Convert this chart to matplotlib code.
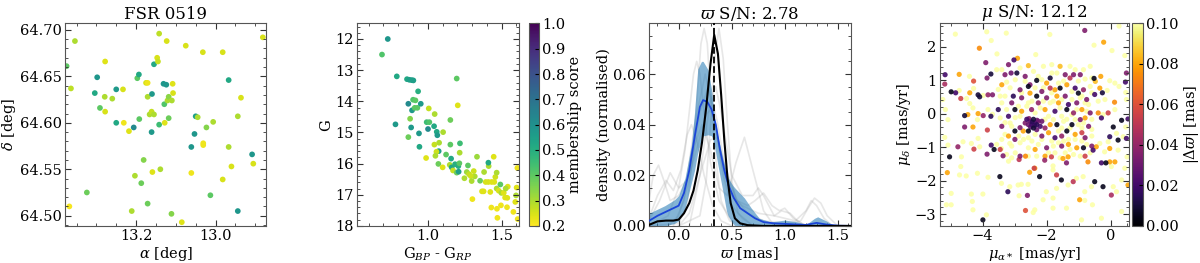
import numpy as np
import matplotlib
matplotlib.use('Agg')
import matplotlib.pyplot as plt
from matplotlib.ticker import AutoMinorLocator, MultipleLocator, FormatStrFormatter

plt.rcParams['font.family'] = 'DejaVu Serif'
plt.rcParams['mathtext.fontset'] = 'dejavuserif'
plt.rcParams['font.size'] = 10
plt.rcParams['xtick.direction'] = 'in'
plt.rcParams['ytick.direction'] = 'in'
plt.rcParams['xtick.top'] = True
plt.rcParams['ytick.right'] = True
plt.rcParams['axes.edgecolor'] = '#555555'
plt.rcParams['axes.labelpad'] = 1.5

# ── panel 1: sky positions (ra, dec, membership) ───────────
sky = np.array([
    [13.354, 64.688, 0.30], [13.368, 64.510, 0.21], [13.364, 64.637, 0.28], [13.375, 64.661, 0.40],
    [13.324, 64.525, 0.38], [13.298, 64.649, 0.58], [13.304, 64.632, 0.52], [13.291, 64.616, 0.40],
    [13.278, 64.666, 0.24], [13.279, 64.628, 0.30], [13.278, 64.612, 0.25], [13.260, 64.626, 0.30],
    [13.250, 64.636, 0.57], [13.250, 64.600, 0.52], [13.233, 64.636, 0.25], [13.231, 64.600, 0.22],
    [13.218, 64.591, 0.24], [13.211, 64.505, 0.30], [13.206, 64.595, 0.62], [13.203, 64.543, 0.30],
    [13.197, 64.648, 0.40], [13.193, 64.652, 0.52], [13.192, 64.604, 0.40], [13.187, 64.535, 0.38],
    [13.181, 64.560, 0.35], [13.175, 64.643, 0.25], [13.171, 64.643, 0.22], [13.171, 64.628, 0.30],
    [13.171, 64.513, 0.38], [13.166, 64.609, 0.30], [13.161, 64.612, 0.27], [13.160, 64.631, 0.57],
    [13.161, 64.590, 0.57], [13.159, 64.547, 0.24], [13.155, 64.609, 0.30], [13.155, 64.663, 0.52],
    [13.147, 64.670, 0.25], [13.145, 64.666, 0.27], [13.142, 64.696, 0.28], [13.142, 64.598, 0.45],
    [13.139, 64.550, 0.30], [13.131, 64.642, 0.58], [13.124, 64.641, 0.58], [13.129, 64.620, 0.42],
    [13.128, 64.600, 0.24], [13.123, 64.688, 0.25], [13.121, 64.624, 0.30], [13.118, 64.628, 0.34],
    [13.118, 64.605, 0.38], [13.110, 64.624, 0.30], [13.111, 64.502, 0.35], [13.108, 64.642, 0.24],
    [13.107, 64.632, 0.25], [13.085, 64.493, 0.24], [13.075, 64.683, 0.25], [13.061, 64.574, 0.58],
    [13.061, 64.546, 0.22], [13.053, 64.588, 0.58], [13.050, 64.607, 0.55], [13.045, 64.606, 0.30],
    [13.032, 64.676, 0.25], [13.031, 64.578, 0.22], [13.031, 64.576, 0.22], [13.023, 64.595, 0.35],
    [13.013, 64.522, 0.40], [13.006, 64.601, 0.30], [12.982, 64.676, 0.25], [12.982, 64.539, 0.25],
    [12.967, 64.646, 0.52], [12.967, 64.574, 0.30], [12.960, 64.553, 0.25], [12.944, 64.607, 0.30],
    [12.944, 64.505, 0.58], [12.936, 64.627, 0.25], [12.908, 64.566, 0.58], [12.905, 64.556, 0.25],
    [12.881, 64.692, 0.25],
])

# ── panel 2: colour-magnitude (bp_rp, G, membership) ───────
cmd = np.array([
    [0.730, 12.00, 0.58], [0.691, 12.50, 0.42], [0.791, 13.20, 0.52], [0.860, 13.29, 0.52],
    [0.876, 13.31, 0.55], [0.892, 13.32, 0.55], [0.903, 13.33, 0.55], [1.196, 13.27, 0.40],
    [0.935, 13.68, 0.50], [0.901, 13.95, 0.42], [0.917, 13.97, 0.40], [0.869, 14.08, 0.62],
    [0.894, 14.29, 0.57], [0.912, 14.21, 0.40], [0.930, 14.21, 0.40], [0.953, 14.08, 0.57],
    [1.007, 14.23, 0.27], [1.203, 14.13, 0.24], [1.047, 14.41, 0.30], [0.881, 14.56, 0.35],
    [0.782, 14.74, 0.57], [0.888, 14.84, 0.57], [0.993, 14.67, 0.45], [1.011, 14.67, 0.42],
    [1.002, 14.89, 0.62], [1.043, 14.80, 0.52], [1.061, 14.98, 0.52], [1.065, 15.09, 0.57],
    [1.104, 14.99, 0.30], [1.153, 14.60, 0.38], [0.869, 15.15, 0.38], [0.941, 15.03, 0.57],
    [0.944, 15.46, 0.52], [1.077, 15.33, 0.30], [1.045, 15.39, 0.27], [1.074, 15.60, 0.55],
    [1.059, 15.62, 0.26], [1.052, 15.75, 0.30], [0.989, 15.82, 0.24], [1.124, 15.71, 0.40],
    [1.153, 15.39, 0.40], [1.218, 15.35, 0.45], [1.216, 15.65, 0.30], [1.158, 15.84, 0.52],
    [1.072, 16.01, 0.38], [1.101, 16.12, 0.24], [1.149, 16.04, 0.30], [1.162, 16.12, 0.52],
    [1.185, 16.02, 0.50], [1.171, 16.22, 0.27], [1.196, 16.29, 0.38], [1.207, 16.08, 0.50],
    [1.209, 16.26, 0.55], [1.214, 15.99, 0.40], [1.272, 16.06, 0.40], [1.333, 15.78, 0.32],
    [1.264, 16.27, 0.32], [1.248, 16.47, 0.30], [1.279, 16.34, 0.27], [1.311, 16.24, 0.26],
    [1.318, 16.41, 0.30], [1.291, 16.40, 0.26], [1.297, 16.56, 0.30], [1.302, 17.14, 0.22],
    [1.354, 16.55, 0.38], [1.378, 16.89, 0.24], [1.392, 16.59, 0.25], [1.381, 16.27, 0.30],
    [1.412, 16.08, 0.30], [1.446, 15.78, 0.24], [1.410, 16.59, 0.25], [1.432, 16.59, 0.24],
    [1.450, 16.59, 0.24], [1.457, 16.43, 0.26], [1.466, 16.29, 0.30], [1.430, 17.41, 0.22],
    [1.410, 15.97, 0.52], [1.423, 16.91, 0.24], [1.466, 16.80, 0.30], [1.480, 16.87, 0.25],
    [1.491, 16.67, 0.40], [1.498, 16.94, 0.30], [1.514, 16.94, 0.24], [1.523, 17.09, 0.24],
    [1.538, 17.10, 0.24], [1.541, 16.74, 0.24], [1.527, 16.80, 0.30], [1.495, 17.34, 0.22],
    [1.468, 17.45, 0.22], [1.536, 17.40, 0.22], [1.579, 17.55, 0.22], [1.592, 17.23, 0.24],
    [1.597, 17.02, 0.30], [1.601, 16.77, 0.24], [1.606, 16.14, 0.22], [1.608, 17.78, 0.22],
    [1.471, 17.74, 0.22], [1.367, 16.89, 0.24],
])

# ── panel 3: parallax densities ────────────────────────────
plx_peak = 0.335
best_x = [-0.28, -0.2, -0.12, -0.05, 0.0, 0.05, 0.1, 0.14, 0.18, 0.22, 0.26, 0.30, 0.335,
          0.37, 0.40, 0.43, 0.46, 0.49, 0.53, 0.58, 0.65, 0.8, 1.62]
best_y = [0.0004, 0.0018, 0.0021, 0.0021, 0.0025, 0.005, 0.009, 0.014, 0.022, 0.033, 0.047,
          0.064, 0.0755, 0.068, 0.052, 0.034, 0.019, 0.009, 0.003, 0.001, 0.0003, 0.0, 0.0]

mean_x = [-0.28, -0.2, -0.1, 0.0, 0.05, 0.1, 0.15, 0.2, 0.23, 0.27, 0.31, 0.35, 0.39, 0.43,
          0.47, 0.52, 0.58, 0.65, 0.72, 0.8, 0.9, 1.0, 1.1, 1.2, 1.3, 1.4, 1.5, 1.62]
mean_y = [0.002, 0.004, 0.006, 0.008, 0.013, 0.022, 0.035, 0.047, 0.0497, 0.049, 0.046, 0.040,
          0.030, 0.022, 0.016, 0.011, 0.007, 0.005, 0.003, 0.0015, 0.001, 0.0008, 0.0006,
          0.0004, 0.0012, 0.0005, 0.0001, 0.0]
band_x = [-0.28, -0.13, -0.04, 0.0, 0.06, 0.12, 0.15, 0.18, 0.215, 0.23, 0.278, 0.309, 0.325,
          0.34, 0.37, 0.388, 0.42, 0.45, 0.466, 0.51, 0.53, 0.62, 0.685, 0.76, 0.87, 1.0,
          1.12, 1.2, 1.28, 1.31, 1.39, 1.47, 1.62]
band_hi = [0.005, 0.008, 0.0103, 0.012, 0.019, 0.032, 0.045, 0.062, 0.065, 0.065, 0.0616,
           0.054, 0.048, 0.042, 0.035, 0.032, 0.026, 0.0216, 0.019, 0.016, 0.015, 0.011, 0.007,
           0.003, 0.0016, 0.0023, 0.0016, 0.0005, 0.003, 0.0036, 0.002, 0.0, 0.0]
band_lo = [0.0, 0.0, 0.001, 0.002, 0.007, 0.017, 0.022, 0.029, 0.034, 0.0356, 0.036, 0.0356,
           0.034, 0.031, 0.024, 0.020, 0.013, 0.006, 0.004, 0.001, 0.0, 0.0, 0.0, 0.0, 0.0,
           0.0, 0.0, 0.0, 0.0, 0.0, 0.0, 0.0, 0.0]

gray_curves = [
    ([-0.28, 0.0, 0.08, 0.14, 0.18, 0.21, 0.24, 0.27, 0.30, 0.34, 0.40, 0.48, 0.6, 1.62],
     [0, 0.001, 0.008, 0.03, 0.055, 0.072, 0.078, 0.072, 0.052, 0.03, 0.01, 0.002, 0, 0]),
    ([0.0, 0.2, 0.26, 0.3, 0.34, 0.38, 0.42, 0.46, 0.5, 0.56, 0.7],
     [0, 0.004, 0.018, 0.04, 0.066, 0.078, 0.066, 0.04, 0.018, 0.005, 0]),
    ([-0.28, -0.1, 0.0, 0.06, 0.1, 0.14, 0.17, 0.2, 0.24, 0.3, 0.38, 0.5, 0.7],
     [0, 0.004, 0.015, 0.03, 0.045, 0.06, 0.065, 0.06, 0.045, 0.025, 0.01, 0.002, 0]),
    ([-0.28, -0.24, -0.19, -0.14, -0.08, 0.0, 0.1, 0.2, 0.26, 0.3, 0.36, 0.42, 0.5, 0.6, 0.7],
     [0.01, 0.02, 0.024, 0.018, 0.01, 0.012, 0.02, 0.035, 0.044, 0.046, 0.038, 0.02, 0.008, 0.003, 0]),
    ([-0.28, -0.18, -0.08, 0.0, 0.08, 0.15, 0.22, 0.3, 0.38, 0.46, 0.54, 0.62, 0.7, 0.8, 0.9],
     [0.002, 0.01, 0.021, 0.015, 0.018, 0.032, 0.04, 0.03, 0.015, 0.012, 0.025, 0.035, 0.022, 0.006, 0]),
    ([-0.1, 0.0, 0.1, 0.2, 0.28, 0.36, 0.45, 0.55, 0.65, 0.72, 0.8, 0.88, 0.95, 1.0, 1.08, 1.2],
     [0, 0.004, 0.018, 0.045, 0.055, 0.042, 0.02, 0.01, 0.008, 0.01, 0.013, 0.008, 0.006, 0.007, 0.003, 0]),
    ([0.0, 0.1, 0.2, 0.3, 0.36, 0.45, 0.55, 0.65, 0.8, 1.0, 1.15, 1.22, 1.28, 1.34, 1.4, 1.5],
     [0, 0.005, 0.02, 0.034, 0.035, 0.022, 0.01, 0.005, 0.002, 0.001, 0.002, 0.007, 0.011, 0.009, 0.004, 0]),
    ([-0.05, 0.05, 0.15, 0.25, 0.33, 0.4, 0.5, 0.6, 0.75, 0.9, 0.97, 1.05, 1.12, 1.2],
     [0, 0.01, 0.04, 0.06, 0.045, 0.025, 0.012, 0.008, 0.005, 0.004, 0.006, 0.005, 0.002, 0]),
    ([-0.28, -0.2, -0.12, -0.05, 0.02, 0.08, 0.12, 0.17, 0.24, 0.32, 0.4, 0.5],
     [0.003, 0.012, 0.018, 0.014, 0.022, 0.036, 0.04, 0.034, 0.02, 0.008, 0.002, 0]),
    ([0.1, 0.2, 0.3, 0.35, 0.4, 0.5, 0.6, 0.7, 0.75, 0.8, 0.9, 1.1, 1.2, 1.25, 1.3, 1.37, 1.45],
     [0, 0.02, 0.05, 0.055, 0.045, 0.02, 0.012, 0.012, 0.015, 0.012, 0.004, 0.002, 0.006, 0.01, 0.008, 0.003, 0]),
]

# ── panel 4: proper motions (pmra, pmdec, |dplx|) ──────────
pm_col = np.array([
    [-4.10, 1.95, 0.075], [-2.91, 1.65, 0.08], [-3.02, 1.60, 0.02], [-3.90, 1.52, 0.035],
    [-5.17, 1.16, 0.02], [-4.73, 1.17, 0.08], [-3.74, 1.18, 0.01], [-3.86, 1.06, 0.035],
    [-4.28, 0.97, 0.06], [-5.18, 0.88, 0.045], [-4.98, 0.65, 0.005], [-4.84, 0.62, 0.02],
    [-4.40, 0.62, 0.08], [-4.14, 0.56, 0.01], [-4.09, 0.50, 0.01], [-4.68, 0.45, 0.055],
    [-3.83, 0.56, 0.04], [-3.69, 0.56, 0.035], [-4.56, -0.06, 0.01], [-4.46, -0.03, 0.08],
    [-4.14, 0.0, 0.08], [-3.98, -0.06, 0.04], [-3.74, -0.08, 0.015],
    [-0.81, 2.48, 0.035], [-0.22, 2.13, 0.08], [-0.48, 0.96, 0.085], [-0.31, 1.11, 0.08],
    [0.49, 1.21, 0.035], [0.46, 0.94, 0.02], [-0.34, 0.76, 0.08], [-0.26, 0.62, 0.01],
    [0.54, -0.16, 0.02], [0.34, -0.20, 0.005], [0.12, 0.34, 0.075], [-0.39, 0.02, 0.075],
    [-0.08, 0.02, 0.055], [-0.29, -0.13, 0.02], [-0.52, 1.05, 0.005], [-0.50, 0.57, 0.02],
    [-4.56, -0.40, 0.035], [-4.30, -0.40, 0.08], [-3.85, -0.49, 0.055], [-4.77, -0.99, 0.04],
    [-4.27, -1.06, 0.055], [-5.03, -1.29, 0.005], [-3.86, -1.21, 0.035], [-3.73, -0.94, 0.02],
    [-3.64, -1.07, 0.005], [-2.39, -1.63, 0.055], [-2.53, -1.75, 0.08], [-5.10, -1.76, 0.08],
    [-3.46, -1.88, 0.005], [-3.21, -2.33, 0.015], [-2.60, -2.44, 0.035], [-2.66, -2.89, 0.06],
    [-3.99, -3.17, 0.005], [-2.66, -1.27, 0.075], [-2.86, -1.37, 0.05], [-3.36, -1.26, 0.035],
    [0.08, -0.40, 0.005], [0.49, -0.74, 0.02], [-0.03, -0.69, 0.015], [0.23, -0.79, 0.005],
    [-0.45, -0.99, 0.08], [-0.03, -1.04, 0.08], [-2.37, -1.63, 0.08], [-1.38, -1.47, 0.035],
    [-0.29, -1.47, 0.02], [-0.15, -1.47, 0.005], [-0.03, -1.44, 0.08], [0.13, -1.44, 0.08],
    [-0.71, -1.44, 0.075], [-2.22, -1.88, 0.005], [-1.69, -1.83, 0.055], [-1.54, -1.98, 0.005],
    [-0.50, -2.03, 0.005], [-0.24, -2.18, 0.005], [0.54, -2.13, 0.08], [-1.17, -2.03, 0.05],
    [0.02, -2.43, 0.045], [-0.97, -2.57, 0.08], [-0.55, -1.09, 0.02], [-2.06, -1.39, 0.04],
    [-1.85, -1.29, 0.055], [-1.49, -1.34, 0.08], [-1.33, -1.29, 0.08],
    [-3.19, 1.46, 0.035], [-2.57, 1.43, 0.085], [-1.58, 1.41, 0.085], [-3.30, 1.16, 0.035],
    [-3.11, 1.21, 0.03], [-2.93, 1.21, 0.01], [-2.67, 1.11, 0.035], [-1.89, 1.06, 0.01],
    [-1.42, 1.16, 0.035], [-1.16, 1.16, 0.035], [-0.95, 1.16, 0.035], [-3.40, 0.86, 0.08],
    [-2.52, 0.86, 0.035], [-2.31, 0.99, 0.005], [-2.00, 0.91, 0.08], [-1.27, 1.06, 0.05],
    [-2.83, 0.71, 0.035], [-2.57, 0.81, 0.005], [-1.89, 0.76, 0.05], [-1.74, 0.71, 0.08],
    [-1.58, 0.76, 0.005], [-1.37, 0.86, 0.08], [-1.11, 0.76, 0.02], [-0.85, 0.71, 0.04],
    [-2.52, 0.61, 0.08], [-2.15, 0.66, 0.035], [-3.04, 0.52, 0.015], [-2.78, 0.47, 0.035],
    [-2.31, 0.52, 0.005], [-2.00, 0.47, 0.035], [-1.68, 0.52, 0.08], [-1.42, 0.52, 0.035],
    [-1.01, 0.61, 0.005], [-0.75, 0.42, 0.035], [-3.09, 0.32, 0.035], [-2.26, 0.32, 0.04],
    [-1.63, 0.32, 0.08], [-1.32, 0.27, 0.02], [-1.06, 0.32, 0.035], [-3.51, 0.12, 0.015],
    [-2.99, 0.12, 0.005], [-2.78, 0.07, 0.08], [-2.47, 0.12, 0.04], [-2.05, 0.12, 0.08],
    [-1.74, 0.07, 0.02], [-1.37, 0.12, 0.005], [-1.16, 0.02, 0.04], [-0.90, 0.12, 0.08],
    [-0.64, 0.02, 0.035], [-3.19, -0.08, 0.02], [-2.99, -0.52, 0.005], [-2.83, -0.42, 0.035],
    [-2.73, -0.52, 0.08], [-2.57, -0.52, 0.005], [-2.05, -0.43, 0.04], [-1.89, -0.33, 0.08],
    [-1.68, -0.33, 0.005], [-1.21, -0.33, 0.005], [-0.95, -0.18, 0.035], [-0.80, -0.13, 0.08],
    [-0.69, -0.38, 0.035], [-3.40, -0.38, 0.035], [-3.19, -0.67, 0.08], [-2.99, -0.77, 0.035],
    [-2.15, -0.67, 0.035], [-1.94, -0.57, 0.08], [-1.74, -0.72, 0.02], [-1.53, -0.67, 0.04],
    [-1.37, -0.52, 0.005], [-1.11, -0.62, 0.08], [-0.90, -0.57, 0.055], [-0.80, -0.72, 0.035],
    [-3.45, -1.07, 0.055], [-2.36, -1.07, 0.08], [-2.00, -1.02, 0.035], [-1.53, -0.97, 0.035],
    [-1.32, -0.92, 0.08], [-1.06, -1.02, 0.08], [-0.85, -1.02, 0.005], [-0.59, -0.97, 0.035],
    [-2.83, -1.27, 0.035], [-2.05, -1.27, 0.08], [-0.80, -1.27, 0.055],
    [-2.62, -0.17, 0.02], [-2.52, -0.23, 0.03], [-2.41, -0.17, 0.01], [-2.36, -0.28, 0.025],
    [-2.31, -0.33, 0.015], [-2.26, -0.23, 0.035], [-2.46, -0.33, 0.02], [-2.57, -0.33, 0.03],
    [-2.41, -0.43, 0.01], [-2.31, -0.48, 0.03], [-2.20, -0.38, 0.02], [-2.67, -0.28, 0.035],
    [-2.15, -0.23, 0.03], [-2.45, -0.25, 0.015], [-2.38, -0.35, 0.02], [-2.50, -0.40, 0.025],
    [-2.30, -0.20, 0.03], [-2.55, -0.15, 0.035],
])

pm_pale = np.array([
    [-4.85, 2.37], [-3.87, 2.44], [-3.73, 2.18], [-3.26, 2.40], [-3.55, 1.78], [-4.41, 1.11],
    [-4.73, 0.69], [-4.50, 0.45], [-4.28, 0.75], [-3.98, 0.54], [-5.24, 0.42], [-5.16, 0.12],
    [-4.40, 0.30], [-4.30, 0.17], [-3.83, 0.12], [-3.69, -0.02], [-4.16, -0.18], [-5.08, -0.18],
    [0.26, 2.61], [-0.52, 2.04], [-1.90, 2.36], [-2.34, 1.76], [0.04, 1.88], [0.44, 1.73],
    [-0.03, 0.98], [0.13, 0.91], [-0.11, 0.69], [0.26, 0.81], [0.47, 0.63], [0.49, 0.42],
    [-0.18, 0.42], [-0.39, 0.37], [-0.24, -0.03], [0.13, 0.12],
    [-5.18, -0.71], [-5.08, -0.94], [-4.61, -0.84], [-4.66, -1.29], [-4.35, -0.89], [-4.14, -0.74],
    [-4.09, -0.99], [-4.68, -1.58], [-4.72, -1.83], [-4.51, -1.86], [-4.16, -1.78], [-3.83, -1.90],
    [-3.41, -2.08], [-2.89, -2.13], [-2.79, -2.11], [-2.58, -2.11], [-3.15, -2.18], [-4.98, -2.38],
    [-4.35, -2.40], [-3.99, -2.40], [-2.86, -2.45], [-5.13, -2.72], [-4.98, -2.72], [-4.32, -2.62],
    [-4.30, -2.87], [-2.42, -2.95], [-3.88, -3.02], [-3.19, -1.42], [-2.87, -0.67], [-3.41, -1.04],
    [-3.15, -0.89],
    [0.47, -0.40], [0.18, -0.59], [0.39, -0.69], [-0.08, -0.84], [-0.34, -0.89], [-0.19, -1.14],
    [0.23, -1.09], [0.44, -1.63], [0.51, -1.29], [0.02, -1.58], [-1.80, -1.56], [-1.80, -1.68],
    [-1.07, -1.93], [-0.86, -1.88], [0.08, -2.18], [0.34, -1.98], [-0.60, -2.18], [-1.69, -2.23],
    [-1.33, -2.13], [-2.01, -2.33], [-0.81, -2.33], [0.18, -2.33], [-2.11, -2.57], [-1.80, -2.52],
    [-0.81, -2.59], [-1.80, -2.82], [-1.38, -2.82], [-0.57, -2.72], [0.34, -2.92], [-0.91, -3.17],
    [-0.29, -3.12], [-2.37, -2.87],
    [-2.10, 1.41], [-0.64, 1.41], [-2.26, 1.11], [-3.25, 0.94], [-1.47, 0.97], [-1.01, 0.97],
    [-0.80, 1.03], [-3.51, 0.72], [-2.36, 0.77], [-2.10, 0.77], [-2.57, 0.32], [-1.89, 0.32],
    [-3.40, 0.32], [-0.69, 0.27], [-1.37, -0.17], [-2.36, -0.62], [-3.56, -0.92], [-3.09, -0.97],
    [-2.83, -0.87], [-2.57, -1.02], [-1.79, -0.97], [-3.25, -1.22], [-1.16, -1.22], [-2.98, 1.01],
    [-2.78, 0.62], [-1.84, 0.62], [-1.53, 0.42], [-1.21, 0.42], [-0.90, 0.52], [-0.59, 0.62],
    [-3.30, 0.52], [-2.88, 0.22], [-2.36, 0.02], [-1.94, -0.08], [-1.53, -0.08], [-1.01, -0.33],
    [-0.59, -0.17], [-3.30, -0.27], [-3.09, -0.38], [-2.15, -0.77], [-1.63, -0.87], [-1.32, -0.77],
    [-0.90, -0.82], [-0.59, -0.67], [-2.46, -0.82], [-1.74, -1.17], [-1.42, -1.17], [-2.98, -1.17],
    [-2.57, -1.27], [-0.95, -1.27], [-1.84, 1.21], [-1.11, 1.31], [-3.40, 1.31], [-2.41, 1.26],
    [-1.63, 0.91], [-2.98, -0.12], [-1.53, -0.43], [-1.21, -0.03], [-0.75, 0.07], [-2.05, -0.17],
    [-2.72, -0.77],
    [-3.56, 1.31], [-2.83, 1.36], [-1.84, 1.46], [-1.27, 1.41], [-0.85, 1.31], [-2.15, 1.01],
    [-1.68, 1.21], [-0.59, 1.06], [-3.14, 0.77], [-2.67, 0.96], [-1.21, 0.66], [-0.64, 0.81],
    [-3.45, 0.52], [-2.46, 0.37], [-2.10, 0.37], [-1.79, 0.37], [-0.95, 0.47], [-3.25, 0.12],
    [-2.62, 0.22], [-2.20, 0.17], [-1.58, 0.17], [-1.06, 0.12], [-0.80, 0.32], [-2.83, -0.08],
    [-1.79, -0.18], [-1.47, -0.23], [-1.11, -0.18], [-0.85, -0.28], [-3.45, -0.13], [-3.14, -0.28],
    [-1.63, -0.52], [-1.27, -0.43], [-0.90, -0.43], [-0.59, -0.47], [-3.30, -0.62], [-2.57, -0.72],
    [-1.84, -0.82], [-1.47, -0.82], [-1.11, -0.77], [-0.75, -0.92], [-3.40, -0.77], [-2.26, -0.92],
    [-1.94, -1.17], [-1.27, -1.07], [-0.64, -1.17], [-3.09, -1.32], [-2.31, -1.27], [-1.58, -1.32],
])


def style_axes(ax):
    ax.xaxis.set_minor_locator(AutoMinorLocator())
    ax.yaxis.set_minor_locator(AutoMinorLocator())
    ax.tick_params(which='both', direction='in', top=True, right=True, colors='#333333',
                   labelcolor='black', labelsize=10.5, pad=2.5)
    ax.tick_params(which='major', length=4)
    ax.tick_params(which='minor', length=2)


fig = plt.figure(figsize=(12, 2.63), dpi=100)
bot, hgt = 0.141, 0.770

# ── panel 1 ────────────────────────────────────────────────
ax1 = fig.add_axes([0.0545, bot, 0.1675, hgt])
ax1.scatter(sky[:, 0], sky[:, 1], c=sky[:, 2], cmap='viridis_r', vmin=0.2, vmax=1.0,
            s=17, linewidths=0)
ax1.set_xlim(13.378, 12.872)
ax1.set_ylim(64.489, 64.707)
ax1.xaxis.set_major_locator(MultipleLocator(0.2))
ax1.yaxis.set_major_locator(MultipleLocator(0.05))
ax1.yaxis.set_major_formatter(FormatStrFormatter('%.2f'))
ax1.set_xlabel(r'$\alpha$ [deg]', fontsize=10.5)
ax1.set_ylabel(r'$\delta$ [deg]', fontsize=10.5)
ax1.set_title('FSR 0519', fontsize=12, pad=3)
style_axes(ax1)

# ── panel 2 ────────────────────────────────────────────────
ax2 = fig.add_axes([0.2975, bot, 0.135, hgt])
sc2 = ax2.scatter(cmd[:, 0], cmd[:, 1], c=cmd[:, 2], cmap='viridis_r', vmin=0.2, vmax=1.0,
                  s=17, linewidths=0)
ax2.set_xlim(0.522, 1.617)
ax2.set_ylim(18.0, 11.5)
ax2.xaxis.set_major_locator(MultipleLocator(0.5))
ax2.yaxis.set_major_locator(MultipleLocator(1))
ax2.set_xlabel(r'G$_{BP}$ - G$_{RP}$', fontsize=10.5)
ax2.set_ylabel('G', fontsize=10.5)
style_axes(ax2)

cax2 = fig.add_axes([0.4408, bot, 0.0085, hgt])
cb2 = fig.colorbar(sc2, cax=cax2)
cb2.set_ticks(np.arange(0.2, 1.01, 0.1))
cb2.ax.yaxis.set_major_formatter(FormatStrFormatter('%.1f'))
cb2.ax.tick_params(labelsize=10.5, length=3, pad=2)
cb2.set_label('membership score', fontsize=10.5, labelpad=2)
cb2.outline.set_edgecolor('#555555')

# ── panel 3 ────────────────────────────────────────────────
ax3 = fig.add_axes([0.5408, bot, 0.168, hgt])
for gx, gy in gray_curves:
    ax3.plot(gx, gy, color='#a0a0a0', alpha=0.25, lw=1.2, zorder=1)
ax3.fill_between(band_x, band_lo, band_hi, color='#1f77b4', alpha=0.55, lw=0, zorder=2)
ax3.plot(mean_x, mean_y, color='#1b45d8', lw=1.3, zorder=3)
ax3.plot(best_x, best_y, color='black', lw=1.5, zorder=4)
ax3.axvline(plx_peak, color='black', ls='--', lw=1.3, zorder=5)
ax3.set_xlim(-0.28, 1.62)
ax3.set_ylim(0, 0.08)
ax3.xaxis.set_major_locator(MultipleLocator(0.5))
ax3.yaxis.set_major_formatter(FormatStrFormatter('%.2f'))
ax3.set_xlabel(r'$\varpi$ [mas]', fontsize=10.5)
ax3.set_ylabel('density (normalised)', fontsize=10.5)
ax3.set_title(r'$\varpi$ S/N: 2.78', fontsize=12, pad=3)
style_axes(ax3)
ax3.set_yticks([0.0, 0.02, 0.04, 0.06])

# ── panel 4 ────────────────────────────────────────────────
ax4 = fig.add_axes([0.7833, bot, 0.1575, hgt])
ax4.scatter(pm_pale[:, 0], pm_pale[:, 1], c=np.full(len(pm_pale), 0.1), cmap='inferno',
            vmin=0, vmax=0.1, s=14, linewidths=0, alpha=0.85)
order = np.argsort(-pm_col[:, 2])
ax4.scatter(pm_col[order, 0], pm_col[order, 1], c=pm_col[order, 2], cmap='inferno',
            vmin=0, vmax=0.1, s=14, linewidths=0, alpha=0.9)
ax4.set_xlim(-5.33, 0.57)
ax4.set_ylim(-3.35, 2.69)
ax4.xaxis.set_major_locator(MultipleLocator(2))
ax4.yaxis.set_major_locator(MultipleLocator(1))
ax4.set_xlabel(r'$\mu_{\alpha *}$ [mas/yr]', fontsize=10.5)
ax4.set_ylabel(r'$\mu_\delta$ [mas/yr]', fontsize=10.5)
ax4.set_title(r'$\mu$ S/N: 12.12', fontsize=12, pad=3)
style_axes(ax4)

cax4 = fig.add_axes([0.9435, bot, 0.0092, hgt])
sm = plt.cm.ScalarMappable(cmap='inferno', norm=plt.Normalize(0, 0.1))
cb4 = fig.colorbar(sm, cax=cax4)
cb4.set_ticks(np.arange(0, 0.101, 0.02))
cb4.ax.yaxis.set_major_formatter(FormatStrFormatter('%.2f'))
cb4.ax.tick_params(labelsize=10.5, length=3, pad=2)
cb4.set_label(r'|$\Delta\varpi$| [mas]', fontsize=10.5, labelpad=2)
cb4.outline.set_edgecolor('#555555')

fig.savefig('out.png', dpi=100)
